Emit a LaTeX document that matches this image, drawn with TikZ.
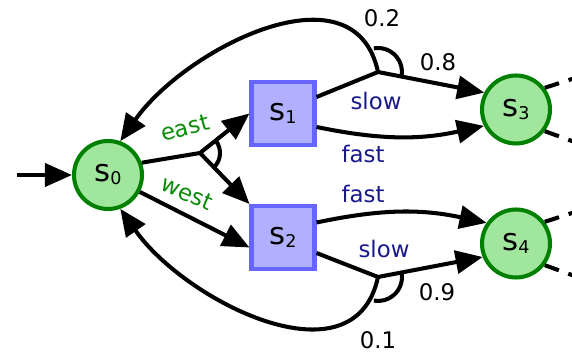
\documentclass[tikz,border=0pt]{standalone}
\usepackage{fontspec}
\setmainfont{DejaVu Sans}
\usetikzlibrary{arrows.meta}

\definecolor{stategreen}{RGB}{0,128,0}
\definecolor{statefill}{RGB}{160,230,156}
\definecolor{choiceblue}{RGB}{102,102,255}
\definecolor{choicefill}{RGB}{176,176,255}
\definecolor{actgreen}{RGB}{10,140,10}
\definecolor{speednavy}{RGB}{25,25,140}

\newcommand{\stname}[1]{s\raisebox{-0.06cm}{\fontsize{10pt}{10pt}\selectfont #1}}

\begin{document}
\begin{tikzpicture}
            [-{Triangle[length=0.54cm,width=0.46cm]}, line width=2.3pt,
             state/.style={shape=circle, draw=stategreen, fill=statefill, minimum size=1.36cm, inner sep=0pt, font=\fontsize{17.5pt}{20pt}\selectfont},
             choice/.style={shape=rectangle, draw=choiceblue, fill=choicefill, minimum size=1.26cm, inner sep=0pt, font=\fontsize{17.5pt}{20pt}\selectfont},
             actlbl/.style={text=actgreen, inner sep=0pt, font=\fontsize{13pt}{15pt}\selectfont},
             speedlbl/.style={text=speednavy, inner sep=0pt, font=\fontsize{13pt}{15pt}\selectfont},
             problbl/.style={text=black, inner sep=0pt, font=\fontsize{13pt}{15pt}\selectfont},
             tail/.style={-, dash pattern=on 0.3cm off 0.2cm}]
            \useasboundingbox (0, 0) rectangle (11.44, 7.02);
            \node[state] (s0) at (2.16, 3.52) {\stname{0}};
            \node[choice] (s1) at (5.66, 4.75) {\stname{1}};
            \node[choice] (s2) at (5.66, 2.27) {\stname{2}};
            \node[state] (s3) at (10.32, 4.83) {\stname{3}};
            \node[state] (s4) at (10.32, 2.15) {\stname{4}};
            \coordinate (s0start) at (0.34, 3.52);
            \coordinate (beast) at (4.00, 3.96);
            \coordinate (bslow1) at (7.56, 5.58);
            \coordinate (bslow2) at (7.56, 1.48);
            \coordinate (s3up) at ([shift={(18:1.2)}]s3.37);
            \coordinate (s3down) at ([shift={(-20:1.2)}]s3.-37);
            \coordinate (s4up) at ([shift={(18:1.2)}]s4.37);
            \coordinate (s4down) at ([shift={(-20:1.2)}]s4.-37);

            \draw (s0start) -- (s0);
            \draw[-] (s0.20) -- (beast);
            \draw (beast) -- (s1.west);
            \draw (beast) -- (s2.north west);
            \draw[-] ([shift={(38.7:0.4)}]beast) arc[start angle=38.7, end angle=-45.6, radius=0.4];
            \draw (s0.-28) -- ([yshift=-0.2cm]s2.west);

            \draw[-] ([yshift=0.33cm]s1.east) -- (bslow1);
            \draw (bslow1) -- (s3.152);
            \draw (bslow1) to[out=102, in=55, looseness=1.08] (s0.70);
            \draw[-] ([shift={(100:0.48)}]bslow1) arc[start angle=100, end angle=-10.9, radius=0.48];
            \draw ([yshift=-0.27cm]s1.east) to[bend right=12] (s3.207);

            \draw ([yshift=0.3cm]s2.east) to[bend left=12] (s4.145);
            \draw[-] ([yshift=-0.31cm]s2.east) -- (bslow2);
            \draw (bslow2) -- (s4.202);
            \draw (bslow2) to[out=-102, in=-55, looseness=1.08] (s0.-70);
            \draw[-] ([shift={(10.9:0.48)}]bslow2) arc[start angle=10.9, end angle=-100, radius=0.48];

            \draw[tail] (s3.37) -- (s3up);
            \draw[tail] (s3.-37) -- (s3down);
            \draw[tail] (s4.37) -- (s4up);
            \draw[tail] (s4.-37) -- (s4down);

            \node[actlbl, rotate=15] (least) at (3.70, 4.46) {east};
            \node[actlbl, rotate=-23] (lwest) at (3.74, 3.16) {west};
            \node[speedlbl] (lslow1) at (7.52, 5.00) {slow};
            \node[speedlbl] (lfast1) at (7.26, 3.94) {fast};
            \node[speedlbl] (lfast2) at (7.26, 3.14) {fast};
            \node[speedlbl] (lslow2) at (7.68, 2.04) {slow};
            \node[problbl] (p02) at (7.64, 6.66) {0.2};
            \node[problbl] (p08) at (8.76, 5.78) {0.8};
            \node[problbl] (p09) at (8.74, 1.18) {0.9};
            \node[problbl] (p01) at (7.56, 0.22) {0.1};
        \end{tikzpicture}
\end{document}
